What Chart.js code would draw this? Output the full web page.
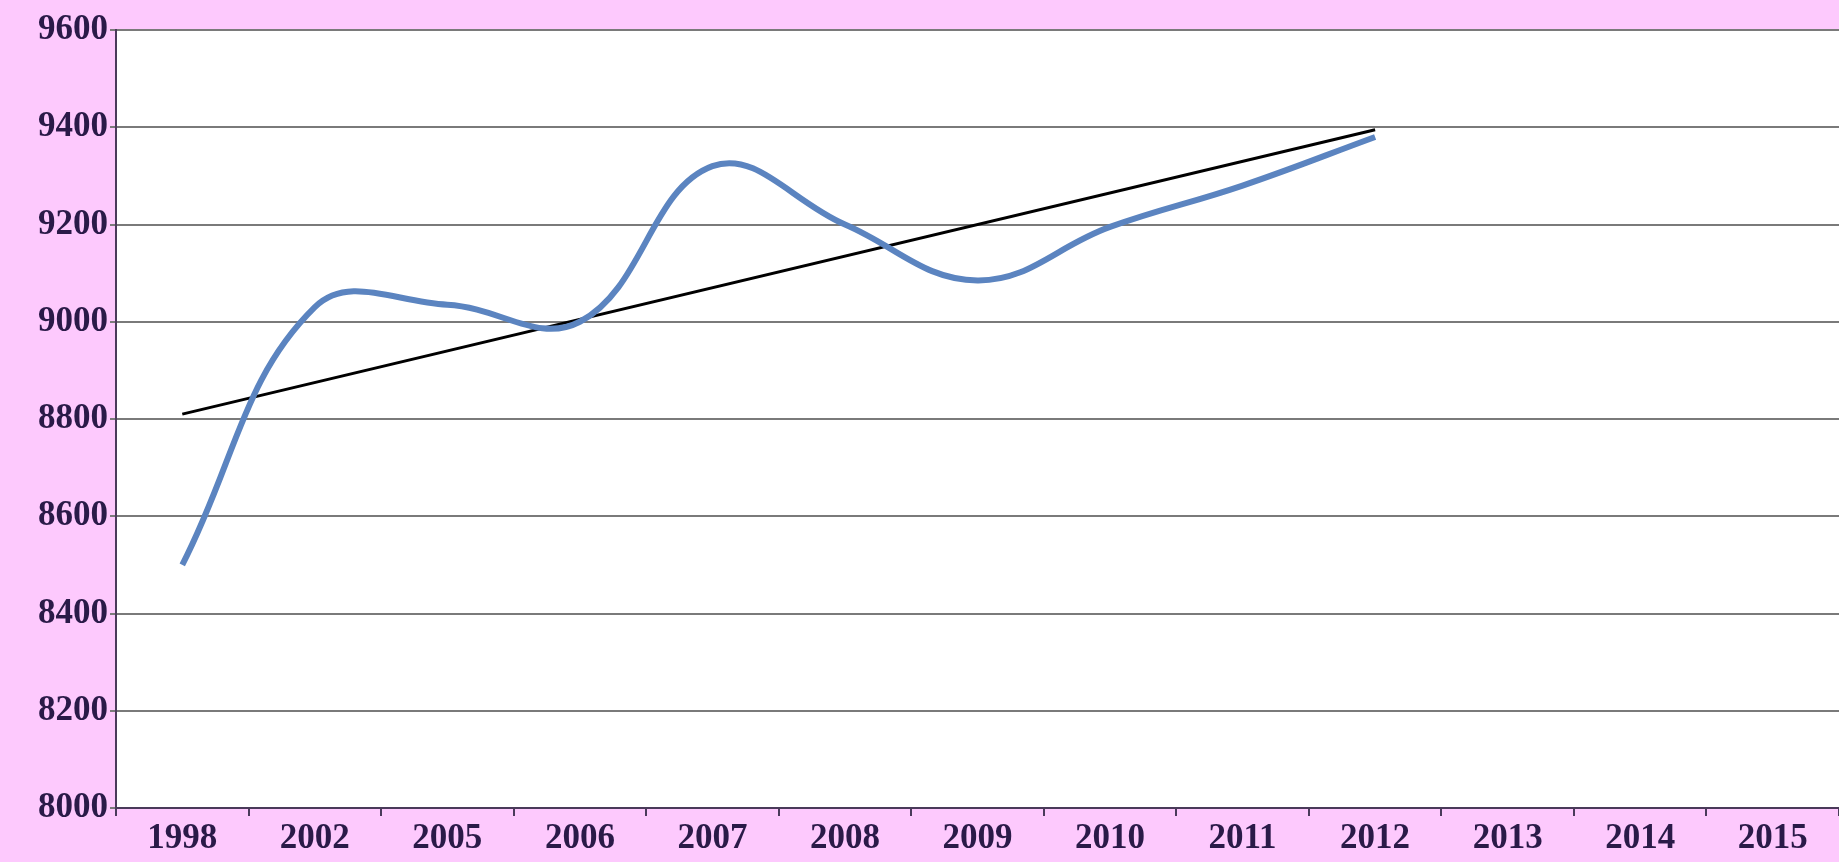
<!DOCTYPE html>
<html>
<head>
<meta charset="utf-8">
<script src="https://cdn.jsdelivr.net/npm/chart.js@4"></script>
<style>
  html, body { margin: 0; padding: 0; background: #fdc9fd; }
  #wrap { width: 1839px; height: 862px; }
</style>
</head>
<body>
<div id="wrap"><canvas id="chart"></canvas></div>
<script>
const years = ['1998', '2002', '2005', '2006', '2007', '2008', '2009', '2010', '2011', '2012', '2013', '2014', '2015'];
const values = [8500, 9030, 9035, 9000, 9320, 9200, 9085, 9195, 9280, 9380, null, null, null];
const trend = [8810, null, null, null, null, null, null, null, null, 9395, null, null, null];

// white plot area
const plotBg = {
  id: 'plotBg',
  beforeDraw(chart) {
    const { ctx, chartArea: a } = chart;
    ctx.save();
    ctx.fillStyle = '#ffffff';
    ctx.fillRect(a.left, a.top, a.right - a.left, a.bottom - a.top);
    ctx.restore();
  }
};

const tickFont = { family: 'Liberation Serif', size: 35, weight: 'bold' };

new Chart(document.getElementById('chart'), {
  type: 'line',
  data: {
    labels: years,
    datasets: [{
      data: values,
      borderColor: '#5b84c0',
      borderWidth: 6,
      tension: 0.4,
      pointRadius: 0,
      fill: false
    }, {
      data: trend,
      borderColor: '#000000',
      borderWidth: 3,
      spanGaps: true,
      pointRadius: 0,
      tension: 0,
      fill: false
    }]
  },
  options: {
    responsive: true,
    maintainAspectRatio: false,
    animation: false,
    layout: { padding: { top: 30, right: 0, bottom: 0, left: 36 } },
    plugins: { legend: { display: false }, tooltip: { enabled: false } },
    scales: {
      x: {
        offset: true,
        grid: { offset: true, drawOnChartArea: false, color: '#4a3a5a', tickLength: 8, lineWidth: 2 },
        border: { color: '#4a3a5a', width: 2 },
        ticks: { color: '#2a1a48', font: tickFont, padding: 2, maxRotation: 0 }
      },
      y: {
        min: 8000,
        max: 9600,
        grid: { color: '#7a7a7a', lineWidth: 2, tickLength: 6 },
        border: { color: '#4a3a5a', width: 2 },
        ticks: { stepSize: 200, color: '#2a1a48', font: tickFont, padding: 2, callback: v => String(v) }
      }
    }
  },
  plugins: [plotBg]
});
</script>
</body>
</html>
